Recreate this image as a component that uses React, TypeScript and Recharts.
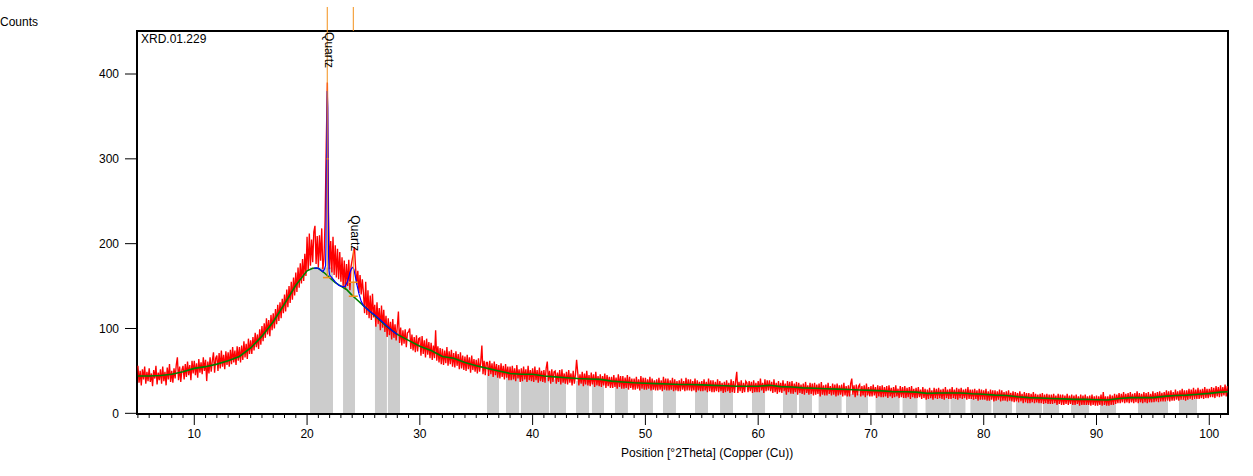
import React from "react";
import { ComposedChart, Line, XAxis, YAxis, ReferenceArea, ReferenceLine, ReferenceDot } from "recharts";

// scan: counts every 0.1 deg 2theta, starting at 5.0
const thetaStart = 5.0;
const thetaStep = 0.1;

const counts05to20 = [
  56, 36, 50, 33, 52, 40, 55, 35, 49, 38,
  53, 37, 47, 32, 51, 41, 56, 34, 48, 39,
  52, 35, 55, 38, 49, 33, 54, 40, 58, 37,
  50, 36, 53, 41, 57, 66, 39, 55, 37, 51,
  56, 40, 58, 43, 61, 45, 57, 39, 62, 47,
  62, 45, 59, 42, 64, 48, 60, 46, 66, 50,
  63, 38, 61, 47, 66, 49, 62, 72, 48, 65,
  68, 50, 71, 53, 74, 55, 69, 52, 73, 57,
  72, 55, 75, 58, 78, 60, 74, 57, 79, 62,
  78, 60, 80, 63, 85, 66, 82, 64, 88, 70,
  86, 70, 90, 74, 95, 78, 93, 76, 99, 81,
  103, 85, 106, 89, 112, 93, 110, 91, 116, 98,
  118, 100, 123, 105, 128, 109, 131, 112, 135, 118,
  140, 120, 146, 125, 150, 130, 155, 134, 160, 139,
  166, 143, 172, 148, 177, 153, 182, 156, 188, 162,
];

const counts20to40 = [
  208, 168, 212, 174, 205, 178, 214, 221, 176, 209,
  172, 210, 180, 218, 170, 182, 228, 316, 390, 237,
  170, 203, 166, 208, 163, 198, 160, 194, 158, 190,
  155, 184, 150, 180, 146, 176, 150, 181, 145, 173,
  181, 188, 196, 172, 152, 168, 142, 163, 140, 158,
  142, 118, 155, 116, 145, 112, 139, 110, 141, 113,
  128, 102, 131, 105, 124, 98, 127, 101, 122, 96,
  115, 90, 112, 92, 108, 87, 111, 89, 105, 86,
  102, 120, 83, 101, 80, 98, 82, 99, 78, 95,
  96, 100, 76, 93, 74, 90, 72, 92, 73, 88,
  89, 68, 91, 70, 86, 66, 88, 69, 84, 65,
  83, 63, 80, 65, 98, 62, 79, 60, 77, 58,
  76, 57, 74, 59, 78, 56, 73, 58, 75, 55,
  71, 54, 73, 56, 70, 52, 72, 53, 68, 51,
  67, 50, 69, 52, 66, 48, 68, 51, 64, 49,
  63, 47, 65, 49, 61, 80, 46, 62, 45, 60,
  60, 44, 62, 46, 59, 43, 61, 45, 58, 42,
  57, 41, 59, 43, 56, 40, 58, 42, 55, 39,
  55, 39, 56, 40, 53, 38, 57, 41, 52, 37,
  53, 38, 55, 40, 52, 37, 56, 39, 51, 38,
];

const counts40to70 = [
  53, 37, 55, 39, 51, 36, 54, 38, 50, 37,
  51, 36, 53, 61, 38, 50, 35, 52, 37, 49,
  50, 35, 48, 37, 51, 34, 52, 36, 47, 35,
  49, 34, 51, 36, 47, 33, 50, 35, 46, 63,
  48, 33, 46, 35, 49, 32, 47, 34, 50, 33,
  45, 32, 48, 34, 46, 31, 49, 33, 44, 32,
  46, 31, 44, 33, 47, 30, 45, 32, 43, 30,
  43, 30, 45, 31, 42, 29, 46, 31, 44, 29,
  44, 29, 42, 30, 45, 28, 43, 30, 41, 28,
  41, 28, 43, 29, 40, 27, 44, 29, 42, 28,
  42, 28, 40, 29, 43, 27, 41, 28, 39, 27,
  40, 27, 42, 28, 39, 26, 43, 28, 41, 27,
  41, 27, 39, 28, 42, 26, 40, 27, 38, 26,
  39, 26, 41, 28, 38, 26, 42, 27, 40, 27,
  40, 26, 38, 27, 41, 25, 39, 27, 37, 26,
  38, 26, 40, 27, 37, 25, 41, 26, 39, 25,
  39, 25, 37, 26, 40, 25, 38, 26, 36, 24,
  37, 25, 39, 26, 36, 24, 40, 25, 38, 24,
  38, 49, 24, 37, 26, 39, 24, 36, 25, 38,
  36, 25, 38, 26, 37, 24, 39, 25, 36, 25,
  38, 25, 41, 27, 36, 24, 40, 26, 39, 27,
  39, 26, 37, 24, 40, 25, 36, 23, 38, 25,
  36, 24, 39, 26, 35, 22, 38, 25, 37, 23,
  38, 23, 35, 25, 37, 22, 36, 24, 34, 23,
  35, 22, 37, 24, 33, 22, 36, 23, 35, 21,
  36, 22, 34, 23, 35, 20, 37, 22, 33, 21,
  34, 21, 36, 23, 32, 21, 35, 22, 34, 20,
  35, 21, 33, 22, 34, 20, 36, 21, 32, 20,
  33, 20, 35, 41, 22, 33, 19, 34, 21, 32,
  34, 20, 32, 21, 33, 19, 35, 21, 31, 20,
];

const counts70to102 = [
  32, 20, 34, 21, 31, 18, 33, 20, 32, 19,
  33, 19, 31, 20, 32, 18, 33, 20, 30, 18,
  31, 19, 33, 20, 29, 18, 32, 19, 31, 18,
  32, 18, 30, 19, 31, 17, 32, 19, 29, 18,
  30, 18, 31, 19, 28, 17, 31, 18, 29, 16,
  28, 17, 30, 18, 27, 16, 30, 18, 29, 17,
  30, 18, 28, 17, 29, 16, 31, 18, 28, 17,
  29, 17, 31, 18, 28, 17, 30, 16, 29, 18,
  30, 17, 28, 18, 29, 16, 31, 17, 28, 17,
  28, 16, 29, 17, 27, 15, 29, 16, 28, 16,
  27, 16, 29, 15, 26, 15, 28, 16, 27, 14,
  27, 15, 26, 16, 28, 14, 27, 15, 25, 15,
  26, 14, 27, 15, 24, 14, 26, 13, 25, 14,
  24, 13, 26, 14, 23, 12, 25, 13, 24, 12,
  24, 12, 23, 13, 25, 12, 23, 13, 22, 12,
  23, 12, 24, 11, 22, 12, 23, 11, 22, 11,
  22, 11, 23, 12, 21, 10, 23, 11, 22, 10,
  22, 10, 21, 11, 23, 10, 21, 11, 22, 10,
  21, 10, 22, 11, 20, 9, 22, 10, 21, 10,
  22, 10, 20, 10, 21, 9, 22, 10, 20, 9,
  21, 9, 20, 10, 22, 9, 25, 10, 20, 9,
  20, 9, 22, 10, 21, 10, 23, 11, 22, 12,
  24, 12, 23, 13, 25, 12, 23, 13, 24, 12,
  25, 13, 23, 12, 24, 13, 26, 12, 24, 13,
  23, 12, 25, 13, 24, 12, 25, 13, 23, 13,
  26, 13, 24, 14, 25, 13, 26, 14, 24, 14,
  25, 14, 27, 15, 26, 14, 27, 15, 25, 15,
  28, 16, 26, 15, 27, 16, 29, 16, 27, 15,
  27, 16, 29, 17, 28, 16, 30, 17, 28, 17,
  30, 17, 28, 18, 29, 17, 31, 18, 29, 18,
  29, 19, 31, 19, 30, 18, 32, 20, 31, 19,
  33, 20, 31, 21, 34, 20, 32,
];

// fitted background (green)
const bgTheta = [
  5, 6, 7, 8, 9, 10, 11, 12, 13, 14, 15, 16, 17, 18, 19, 20,
  20.5, 21, 21.5, 22, 22.5, 23, 23.5, 24, 24.5, 25,
  26, 27, 28, 29, 30, 31, 32, 33, 34, 35, 36, 37, 38, 39, 40, 41, 42, 43, 44, 45,
  46, 47, 48, 49, 50, 51, 52, 53, 54, 55, 56, 57, 58, 59, 60, 61, 62, 63, 64, 65,
  66, 67, 68, 69, 70, 71, 72, 73, 74, 75, 76, 77, 78, 79, 80, 81, 82, 83, 84, 85,
  86, 87, 88, 89, 90, 91, 92, 93, 94, 95, 96, 97, 98, 99, 100, 101, 101.66,
];
const bgCounts = [
  44, 44, 44.5, 46, 49, 53, 55, 58, 62, 67, 77, 91, 108, 129, 151, 168,
  171, 171, 166, 160, 154, 150, 146, 139, 133, 127,
  115, 103, 93, 86, 79, 74, 67, 65, 60, 56, 53, 50, 47, 46, 46, 44, 43, 42, 41, 40.5,
  40, 38, 37, 36, 35.5, 35, 34.5, 34, 34, 33.5, 33, 32.5, 32, 32, 32, 33, 31.5, 31, 30, 29.5,
  29, 28.5, 28, 27.5, 27, 26.5, 25.5, 25.5, 25, 23.5, 24, 24, 24, 23, 22.5, 21.5, 21, 19.5, 18.5, 18,
  17.5, 17, 16.5, 16.5, 16, 15.7, 17.5, 18.5, 18.5, 18.5, 20, 21, 21.5, 22.5, 23.5, 25, 25.5,
];

// calculated profile (blue)
const fitTheta = [
  20.6, 20.8, 21.0, 21.2, 21.4, 21.55, 21.64, 21.68, 21.71, 21.75, 21.79, 21.83, 21.87, 21.91, 21.95,
  22.0, 22.2, 22.5, 22.8, 23.0, 23.2, 23.4, 23.6, 23.8, 23.95, 24.05, 24.15, 24.3, 24.45, 24.6,
  24.8, 25.0, 25.5, 26.0, 26.5, 27.0, 27.5, 28.0,
];
const fitCounts = [
  171, 171.5, 171, 169, 167, 170, 174, 200, 283, 330, 380, 360, 240, 185, 168,
  163, 160, 155, 151, 150, 149, 150, 156, 166, 171, 172, 170, 160, 150, 141,
  132, 127, 121, 116, 110, 104, 98, 93,
];

// grey ranges
const greyFrom = [
  20.26, 23.19, 26.02, 27.17, 35.95, 37.64, 38.97, 41.54, 43.85, 45.26, 47.3, 49.52, 51.56, 54.4,
  56.62, 59.45, 62.2, 63.62, 65.36, 67.79, 70.41, 72.8, 74.84, 77.05, 78.82, 80.82, 82.86, 85.26,
  87.74, 90.31, 93.68, 97.31,
];
const greyTo = [
  22.3, 24.25, 27.08, 28.24, 37.02, 38.79, 41.45, 42.96, 45.0, 46.33, 48.45, 50.67, 52.71, 55.55,
  57.77, 60.61, 63.44, 64.77, 67.4, 69.74, 72.54, 74.13, 76.96, 78.38, 80.68, 82.51, 85.17, 86.68,
  89.34, 91.73, 96.34, 98.91,
];
const greyTop = [
  172, 155, 105, 95, 47, 44, 42, 40, 38, 36, 34, 32, 31, 30,
  29, 28, 27, 26, 25, 23, 22, 21, 19, 19, 18, 16.5, 14, 13.5,
  13, 12.5, 15, 17,
];

// reference pattern markers
const phaseName = "Quartz";
const quartzTheta = [21.79, 24.1];
const quartzLabelCounts = [450, 234];
const quartzSegTheta = [21.79, 24.1, 24.1];
const quartzSegFrom = [479, 479, 192];
const quartzSegTo = [160, 450.7, 138];
const quartzTickFrom = [21.41, 21.74, 23.7, 23.7];
const quartzTickTo = [22.12, 21.9, 24.5, 24.5];
const quartzTickCounts = [160, 300, 154.5, 138];

const xTicks = [
  5, 6, 7, 8, 9, 10, 11, 12, 13, 14, 15, 16, 17, 18, 19, 20, 21, 22, 23, 24, 25, 26, 27, 28, 29, 30,
  31, 32, 33, 34, 35, 36, 37, 38, 39, 40, 41, 42, 43, 44, 45, 46, 47, 48, 49, 50, 51, 52, 53, 54, 55,
  56, 57, 58, 59, 60, 61, 62, 63, 64, 65, 66, 67, 68, 69, 70, 71, 72, 73, 74, 75, 76, 77, 78, 79, 80,
  81, 82, 83, 84, 85, 86, 87, 88, 89, 90, 91, 92, 93, 94, 95, 96, 97, 98, 99, 100, 101,
];
const xLabelTicks = [10, 20, 30, 40, 50, 60, 70, 80, 90, 100];
const yTicks = [0, 100, 200, 300, 400];

const scan = [...counts05to20, ...counts20to40, ...counts40to70, ...counts70to102].map((c, i) => ({
  theta: Math.round((thetaStart + i * thetaStep) * 100) / 100,
  counts: c,
}));
const background = bgTheta.map((t, i) => ({ theta: t, bg: bgCounts[i] }));
const fit = fitTheta.map((t, i) => ({ theta: t, fit: fitCounts[i] }));

const FONT = "'Liberation Sans', Arial, sans-serif";
const ORANGE = "#f39019";

function XTick(props: any) {
  const { x, y, payload } = props;
  const major = xLabelTicks.includes(payload.value);
  return (
    <g>
      <line x1={x} x2={x} y1={y} y2={y + (major ? 11 : 4)} stroke="#000" strokeWidth={1} />
      {major && (
        <text x={x} y={y + 24} textAnchor="middle" fontSize={12} fontFamily={FONT} fill="#000">
          {payload.value}
        </text>
      )}
    </g>
  );
}

function QuartzLabel(props: any) {
  const { cx, cy } = props;
  const x = cx + 1.5;
  const y = cy + 0.5;
  return (
    <text
      x={x}
      y={y}
      transform={`rotate(90 ${x} ${y})`}
      textAnchor="start"
      dominantBaseline="central"
      fontSize={12}
      fontFamily={FONT}
      fill="#000"
    >
      {phaseName}
    </text>
  );
}

export default function App() {
  const textStyle: React.CSSProperties = {
    position: "absolute",
    fontFamily: FONT,
    fontSize: 12,
    lineHeight: "12px",
    color: "#000",
    whiteSpace: "nowrap",
  };
  return (
    <div style={{ position: "absolute", left: 0, top: 0, width: 1253, height: 476, background: "#fff" }}>
      <ComposedChart width={1253} height={476} data={scan} margin={{ top: 31, right: 25, bottom: 22, left: 77 }}>
        <XAxis
          dataKey="theta"
          type="number"
          domain={[4.92, 101.66]}
          allowDataOverflow
          ticks={xTicks}
          interval={0}
          axisLine={false}
          tickLine={false}
          tickSize={0}
          tickMargin={0}
          tick={<XTick />}
          height={40}
        />
        <YAxis
          type="number"
          domain={[-0.8, 450.7]}
          allowDataOverflow
          ticks={yTicks}
          interval={0}
          width={60}
          axisLine={false}
          tickLine={{ stroke: "#000" }}
          tickSize={12}
          tickMargin={6}
          tick={{ fontSize: 12, fontFamily: FONT, fill: "#000" }}
        />
        {greyFrom.map((f, i) => (
          <ReferenceArea
            key={"g" + i}
            x1={f}
            x2={greyTo[i]}
            y1={0}
            y2={greyTop[i]}
            fill="#cccccc"
            fillOpacity={1}
            stroke="none"
            ifOverflow="visible"
          />
        ))}
        <Line dataKey="counts" stroke="#ff0000" strokeWidth={1.35} dot={false} activeDot={false} isAnimationActive={false} type="linear" />
        <Line data={background} dataKey="bg" stroke="#008000" strokeWidth={1.6} dot={false} activeDot={false} isAnimationActive={false} type="linear" />
        <Line data={fit} dataKey="fit" stroke="#0000ff" strokeWidth={1.2} dot={false} activeDot={false} isAnimationActive={false} type="linear" />
        {quartzSegTheta.map((t, i) => (
          <ReferenceLine
            key={"s" + i}
            segment={[{ x: t, y: quartzSegFrom[i] }, { x: t, y: quartzSegTo[i] }]}
            stroke={ORANGE}
            strokeWidth={1}
            ifOverflow="visible"
          />
        ))}
        {quartzTickFrom.map((f, i) => (
          <ReferenceLine
            key={"t" + i}
            segment={[{ x: f, y: quartzTickCounts[i] }, { x: quartzTickTo[i], y: quartzTickCounts[i] }]}
            stroke={ORANGE}
            strokeWidth={1.5}
            ifOverflow="visible"
          />
        ))}
        {quartzTheta.map((t, i) => (
          <ReferenceDot key={"q" + i} x={t} y={quartzLabelCounts[i]} r={0} ifOverflow="visible" shape={<QuartzLabel />} />
        ))}
        <ReferenceArea
          x1={4.92}
          x2={101.66}
          y1={-0.8}
          y2={450.7}
          fill="none"
          stroke="#000"
          strokeWidth={2}
          ifOverflow="visible"
        />
      </ComposedChart>
      <div style={{ ...textStyle, left: 0, top: 16 }}>Counts</div>
      <div style={{ ...textStyle, left: 141, top: 33 }}>XRD.01.229</div>
      <div style={{ ...textStyle, left: 621, top: 447 }}>Position [°2Theta] (Copper (Cu))</div>
    </div>
  );
}
